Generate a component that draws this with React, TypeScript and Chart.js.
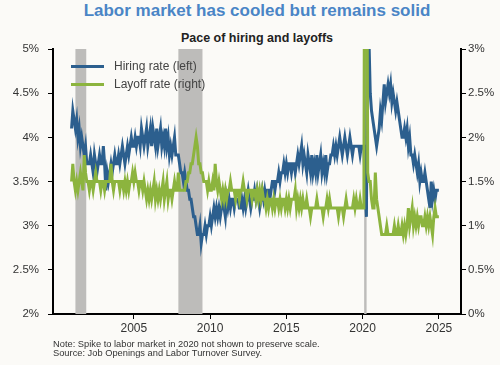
import React, { useEffect, useRef } from "react";
import { Chart, registerables } from "chart.js";

Chart.register(...registerables);

// Monthly series starting December 2000
const START_YEAR = 2000;
const START_MONTH = 12;

// Hiring rate (%), left axis
const hiringRate = [
  4.1, // Dec 2000
  4.3, 4.2, 4.1, 4.2, 4.0, 4.1, 3.9, 4.0, 3.9, 3.8, 3.9, 3.7, // 2001
  3.7, 3.7, 3.8, 3.7, 3.6, 3.8, 3.7, 3.6, 3.7, 3.8, 3.7, 3.7, // 2002
  3.9, 3.7, 3.4, 3.6, 3.5, 3.6, 3.7, 3.6, 3.7, 3.8, 3.7, 3.7, // 2003
  3.8, 3.7, 3.8, 3.9, 3.8, 3.7, 3.8, 3.9, 3.8, 3.9, 4.0, 3.9, // 2004
  3.9, 4.0, 3.9, 4.0, 4.0, 3.9, 4.1, 4.0, 3.9, 4.0, 4.1, 3.9, // 2005
  4.0, 4.1, 3.9, 4.1, 4.0, 3.9, 4.1, 3.9, 4.0, 4.1, 3.9, 4.0, // 2006
  3.9, 4.1, 3.9, 4.0, 3.8, 3.9, 3.8, 3.9, 4.0, 3.8, 3.8, 3.8, // 2007
  3.7, 3.6, 3.6, 3.5, 3.6, 3.5, 3.4, 3.4, 3.3, 3.3, 3.2, 3.1, // 2008
  3.1, 3.0, 2.9, 2.9, 3.0, 2.8, 2.9, 2.9, 3.0, 2.9, 3.0, 3.0, // 2009
  3.1, 3.0, 3.1, 3.2, 3.1, 3.2, 3.1, 3.2, 3.1, 3.2, 3.3, 3.2, // 2010
  3.1, 3.3, 3.2, 3.3, 3.2, 3.3, 3.3, 3.2, 3.3, 3.3, 3.3, 3.2, // 2011
  3.2, 3.3, 3.2, 3.3, 3.2, 3.3, 3.4, 3.3, 3.2, 3.3, 3.3, 3.4, // 2012
  3.3, 3.4, 3.3, 3.2, 3.3, 3.4, 3.3, 3.4, 3.3, 3.4, 3.4, 3.3, // 2013
  3.4, 3.5, 3.5, 3.4, 3.5, 3.5, 3.6, 3.5, 3.6, 3.6, 3.7, 3.6, // 2014
  3.7, 3.6, 3.7, 3.7, 3.6, 3.7, 3.7, 3.6, 3.7, 3.8, 3.7, 3.8, // 2015
  3.9, 3.7, 3.8, 3.7, 3.6, 3.8, 3.7, 3.6, 3.8, 3.6, 3.7, 3.6, // 2016
  3.8, 3.6, 3.7, 3.8, 3.6, 3.7, 3.6, 3.8, 3.6, 3.7, 3.7, 3.8, // 2017
  3.8, 3.9, 3.8, 3.9, 3.8, 3.9, 4.0, 3.9, 3.8, 3.9, 4.0, 3.9, // 2018
  3.8, 3.9, 4.0, 3.9, 3.8, 3.9, 3.9, 3.9, 3.9, 3.9, 3.8, 3.9, // 2019
  3.9, 3.9, 3.4, 3.1, 5.7, 5.1, 4.5, 4.3, 4.2, 4.1, 4.0, 3.9, // 2020
  4.0, 4.1, 4.3, 4.2, 4.4, 4.6, 4.4, 4.5, 4.6, 4.5, 4.6, 4.4, // 2021
  4.5, 4.4, 4.3, 4.4, 4.3, 4.2, 4.1, 4.0, 4.0, 4.1, 4.0, 4.1, // 2022
  3.9, 4.0, 3.8, 3.8, 3.7, 3.8, 3.7, 3.6, 3.7, 3.5, 3.6, 3.5, // 2023
  3.5, 3.6, 3.5, 3.4, 3.3, 3.2, 3.5, 3.3, 3.4, 3.3, 3.4, 3.4, // 2024
  3.4, // Jan 2025
];

// Layoff rate (%), right axis
const layoffRate = [
  1.5, // Dec 2000
  1.7, 1.5, 1.4, 1.5, 1.4, 1.5, 1.6, 1.5, 1.4, 1.8, 1.6, 1.5, // 2001
  1.5, 1.4, 1.5, 1.5, 1.4, 1.5, 1.6, 1.5, 1.5, 1.5, 1.4, 1.5, // 2002
  1.5, 1.4, 1.5, 1.5, 1.5, 1.5, 1.7, 1.5, 1.4, 1.5, 1.5, 1.5, // 2003
  1.5, 1.4, 1.5, 1.5, 1.4, 1.5, 1.4, 1.5, 1.4, 1.5, 1.5, 1.6, // 2004
  1.5, 1.6, 1.5, 1.5, 1.4, 1.5, 1.5, 1.4, 1.5, 1.4, 1.3, 1.4, // 2005
  1.3, 1.4, 1.3, 1.4, 1.5, 1.3, 1.4, 1.3, 1.4, 1.3, 1.4, 1.5, // 2006
  1.3, 1.4, 1.5, 1.3, 1.4, 1.4, 1.3, 1.4, 1.5, 1.4, 1.4, 1.6, // 2007
  1.4, 1.4, 1.4, 1.4, 1.4, 1.5, 1.5, 1.6, 1.6, 1.7, 1.7, 1.8, // 2008
  1.9, 2.0, 1.9, 1.7, 1.7, 1.6, 1.6, 1.5, 1.5, 1.5, 1.4, 1.5, // 2009
  1.4, 1.4, 1.5, 1.4, 1.7, 1.5, 1.4, 1.5, 1.4, 1.3, 1.4, 1.3, // 2010
  1.4, 1.3, 1.4, 1.4, 1.5, 1.4, 1.4, 1.4, 1.3, 1.4, 1.4, 1.3, // 2011
  1.4, 1.4, 1.5, 1.4, 1.4, 1.3, 1.4, 1.4, 1.4, 1.3, 1.4, 1.4, // 2012
  1.3, 1.4, 1.3, 1.4, 1.3, 1.4, 1.3, 1.3, 1.2, 1.3, 1.2, 1.3, // 2013
  1.3, 1.2, 1.3, 1.2, 1.3, 1.3, 1.2, 1.3, 1.2, 1.3, 1.3, 1.2, // 2014
  1.3, 1.2, 1.3, 1.2, 1.3, 1.3, 1.3, 1.4, 1.2, 1.3, 1.2, 1.3, // 2015
  1.2, 1.3, 1.2, 1.2, 1.3, 1.2, 1.2, 1.1, 1.2, 1.2, 1.2, 1.2, // 2016
  1.3, 1.2, 1.2, 1.2, 1.2, 1.1, 1.2, 1.2, 1.3, 1.2, 1.3, 1.2, // 2017
  1.2, 1.2, 1.2, 1.2, 1.2, 1.1, 1.2, 1.2, 1.2, 1.1, 1.2, 1.3, // 2018
  1.2, 1.2, 1.2, 1.2, 1.2, 1.3, 1.2, 1.3, 1.2, 1.2, 1.3, 1.2, // 2019
  1.2, 1.2, 7.5, 5.9, 1.6, 1.5, 1.5, 1.3, 1.2, 1.2, 1.6, 1.3, // 2020
  1.2, 1.1, 1.0, 0.9, 0.9, 0.9, 0.9, 1.0, 0.9, 0.9, 0.9, 0.9, // 2021
  0.9, 1.0, 0.9, 0.9, 1.0, 0.9, 0.9, 1.0, 0.9, 1.0, 0.9, 1.0, // 2022
  1.2, 1.0, 1.1, 1.2, 1.0, 1.1, 1.0, 1.1, 1.0, 1.1, 1.1, 1.0, // 2023
  1.0, 1.1, 1.0, 1.1, 1.0, 1.1, 1.0, 0.9, 1.1, 1.2, 1.1, 1.1, // 2024
  1.1, // Jan 2025
];

// Recessions (decimal years)
const recessionStart = [2001.17, 2007.92, 2020.1];
const recessionEnd = [2001.88, 2009.5, 2020.26];

const xTicks = [2005, 2010, 2015, 2020, 2025];
const leftTicks = [2, 2.5, 3, 3.5, 4, 4.5, 5];
const rightTicks = [0, 0.5, 1, 1.5, 2, 2.5, 3];

const seriesNames = ["Hiring rate (left)", "Layoff rate (right)"];
const titleText = "Labor market has cooled but remains solid";
const subtitleText = "Pace of hiring and layoffs";
const noteLines = [
  "Note: Spike to labor market in 2020 not shown to preserve scale.",
  "Source: Job Openings and Labor Turnover Survey.",
];

const BLUE = "#2C5F8E";
const GREEN = "#8CB43E";
const FONT = "'Liberation Sans', Arial, Helvetica, sans-serif";
const BG = "#FBFAF7";

const toPoints = (arr: number[]) =>
  arr.map((v, i) => ({ x: START_YEAR + (START_MONTH - 1 + i) / 12, y: v }));

const recessionPlugin = {
  id: "recessions",
  beforeDatasetsDraw(chart: any) {
    const { ctx, chartArea, scales } = chart;
    const xs = scales.x;
    ctx.save();
    ctx.fillStyle = "#BDBCBA";
    recessionStart.forEach((s, i) => {
      const x0 = xs.getPixelForValue(s);
      const x1 = xs.getPixelForValue(recessionEnd[i]);
      ctx.fillRect(x0, chartArea.top, x1 - x0, chartArea.bottom - chartArea.top);
    });
    ctx.restore();
  },
};

export default function App() {
  const ref = useRef<HTMLCanvasElement>(null);

  useEffect(() => {
    document.body.style.margin = "0";
    document.body.style.background = BG;
    const canvas = ref.current!;
    const axisCommon = (ticks: number[]) => ({
      afterBuildTicks: (s: any) => {
        s.ticks = ticks.map((v) => ({ value: v }));
      },
      grid: {
        display: true,
        drawOnChartArea: false,
        drawTicks: true,
        tickLength: 5,
        color: "#000",
        lineWidth: 1,
      },
      border: { display: true, color: "#000", width: 2 },
    });
    const chart = new Chart(canvas, {
      type: "line",
      data: {
        datasets: [
          {
            label: seriesNames[1],
            data: toPoints(layoffRate),
            yAxisID: "y1",
            borderColor: GREEN,
            backgroundColor: GREEN,
            borderWidth: 3,
            pointRadius: 0,
            tension: 0,
            order: 0,
          },
          {
            label: seriesNames[0],
            data: toPoints(hiringRate),
            yAxisID: "y",
            borderColor: BLUE,
            backgroundColor: BLUE,
            borderWidth: 3,
            pointRadius: 0,
            tension: 0,
            order: 1,
          },
        ],
      },
      options: {
        responsive: false,
        animation: false,
        devicePixelRatio: 1,
        layout: { padding: { top: 49, left: 0, right: 0, bottom: 0 } },
        plugins: {
          legend: { display: false },
          tooltip: { enabled: false },
          title: { display: false },
        },
        scales: {
          x: {
            type: "linear",
            min: 1999.7,
            max: 2026.45,
            ...axisCommon(xTicks),
            ticks: {
              color: "#333",
              font: { family: FONT, size: 12 },
              padding: 2,
              maxRotation: 0,
              autoSkip: false,
              callback: (v: any) => String(v),
            },
            afterFit: (s: any) => {
              s.height = 51;
            },
          },
          y: {
            type: "linear",
            position: "left",
            min: 2,
            max: 5,
            ...axisCommon(leftTicks),
            ticks: {
              color: "#333",
              font: { family: FONT, size: 11.5 },
              padding: 9,
              callback: (v: any) => v + "%",
            },
            afterFit: (s: any) => {
              s.width = 53;
            },
          },
          y1: {
            type: "linear",
            position: "right",
            min: 0,
            max: 3,
            ...axisCommon(rightTicks),
            ticks: {
              color: "#333",
              font: { family: FONT, size: 11.5 },
              padding: 2,
              callback: (v: any) => v + "%",
            },
            afterFit: (s: any) => {
              s.width = 39;
            },
          },
        },
      },
      plugins: [recessionPlugin],
    });
    return () => chart.destroy();
  }, []);

  const legendColors = [BLUE, GREEN];

  return (
    <div
      style={{
        position: "absolute",
        left: 0,
        top: 0,
        width: 500,
        height: 365,
        background: BG,
        fontFamily: FONT,
        overflow: "hidden",
      }}
    >
      <div
        style={{
          position: "absolute",
          left: 53,
          width: 408,
          top: 1.5,
          textAlign: "center",
          fontSize: 17,
          lineHeight: "17px",
          fontWeight: "bold",
          color: "#4A85C6",
          whiteSpace: "nowrap",
        }}
      >
        {titleText}
      </div>
      <div
        style={{
          position: "absolute",
          left: 53,
          width: 408,
          top: 31.5,
          textAlign: "center",
          fontSize: 12.5,
          lineHeight: "12.5px",
          fontWeight: "bold",
          color: "#222",
          whiteSpace: "nowrap",
        }}
      >
        {subtitleText}
      </div>
      <canvas
        ref={ref}
        width={500}
        height={365}
        style={{ position: "absolute", left: 0, top: 0, width: 500, height: 365 }}
      />
      {seriesNames.map((name, i) => (
        <div key={name}>
          <div
            style={{
              position: "absolute",
              left: 71,
              top: 65 + i * 18 - 0.5,
              width: 33,
              height: 3,
              background: legendColors[i],
            }}
          />
          <div
            style={{
              position: "absolute",
              left: 114,
              top: 60 + i * 18,
              fontSize: 12,
              lineHeight: "12px",
              color: "#444",
              whiteSpace: "nowrap",
            }}
          >
            {name}
          </div>
        </div>
      ))}
      <div
        style={{
          position: "absolute",
          left: 53,
          top: 339.5,
          fontSize: 9.3,
          lineHeight: "9.3px",
          color: "#333",
          whiteSpace: "nowrap",
        }}
      >
        {noteLines.map((l) => (
          <div key={l}>{l}</div>
        ))}
      </div>
    </div>
  );
}
